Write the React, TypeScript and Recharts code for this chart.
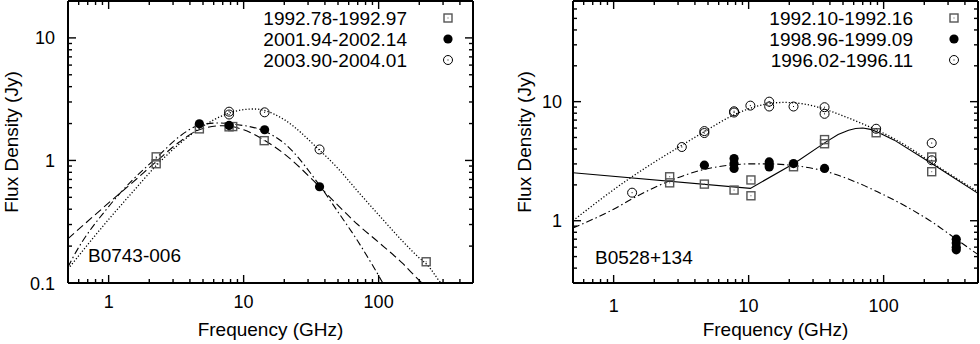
import { ComposedChart, Line, Scatter, XAxis, YAxis } from 'recharts'

const FONT = '"Liberation Sans", Arial, Helvetica, sans-serif'

type Pt = [number, number] // [frequency GHz, flux Jy]

// axis ticks
const freqTicks = [0.6, 0.7, 0.8, 0.9, 1, 2, 3, 4, 5, 6, 7, 8, 9, 10, 20, 30, 40, 50, 60, 70, 80, 90, 100, 200, 300, 400]
const b0743FluxTicks = [0.1, 0.2, 0.3, 0.4, 0.5, 0.6, 0.7, 0.8, 0.9, 1, 2, 3, 4, 5, 6, 7, 8, 9, 10]
const b0528FluxTicks = [0.4, 0.5, 0.6, 0.7, 0.8, 0.9, 1, 2, 3, 4, 5, 6, 7, 8, 9, 10, 20, 30, 40, 50, 60]
const labelled = [0.1, 1, 10, 100]

// B0743-006 measurements
const b0743Sq1992: Pt[] = [[2.25, 1.07], [2.25, 0.94], [4.7, 1.81], [7.8, 1.88], [8.3, 1.89], [14.2, 1.45], [225, 0.149]]
const b0743Fill2001: Pt[] = [[4.7, 1.99], [7.8, 1.93], [14.3, 1.78], [36.5, 0.61]]
const b0743Open2003: Pt[] = [[7.8, 2.5], [7.8, 2.37], [14.3, 2.47], [36.5, 1.23]]

// B0743-006 fitted spectra
const b0743Fit1992: Pt[] = [[0.5, 0.23], [1, 0.45], [1.5, 0.66], [2.3, 1.0], [3.3, 1.4], [4.8, 1.8], [7, 1.92], [10, 1.78], [14, 1.48], [20, 1.13], [36, 0.62], [50, 0.43], [70, 0.3], [100, 0.215], [150, 0.145], [200, 0.105], [220, 0.095]]
const b0743Fit2001: Pt[] = [[0.5, 0.135], [0.55, 0.165], [1, 0.42], [1.5, 0.69], [2.3, 1.07], [3.3, 1.55], [4.8, 1.95], [6.5, 2.02], [8.5, 1.97], [14, 1.75], [20, 1.38], [36, 0.64], [50, 0.38], [70, 0.22], [90, 0.14], [100, 0.115], [110, 0.095]]
const b0743Fit2003: Pt[] = [[0.5, 0.13], [1, 0.33], [1.5, 0.55], [2.3, 0.93], [3.3, 1.35], [4.8, 1.85], [7.7, 2.42], [10, 2.6], [12, 2.63], [14, 2.57], [20, 2.15], [36, 1.23], [50, 0.86], [70, 0.56], [100, 0.36], [150, 0.22], [200, 0.16], [230, 0.14], [290, 0.1], [310, 0.093]]

// B0528+134 measurements
const b0528Sq1992: Pt[] = [[2.6, 2.34], [2.6, 2.08], [4.7, 2.03], [7.8, 1.81], [10.4, 2.2], [10.4, 1.62], [21.5, 2.84], [36.5, 4.8], [36.5, 4.43], [88, 5.48], [227, 3.43], [227, 2.58]]
const b0528Fill1998: Pt[] = [[4.7, 2.93], [7.8, 3.33], [7.8, 3.02], [7.8, 2.75], [14.2, 3.12], [14.2, 2.95], [14.2, 2.83], [21.5, 3.02], [36.5, 2.75], [345, 0.7], [345, 0.65], [345, 0.6], [345, 0.57]]
const b0528Open1996: Pt[] = [[1.37, 1.72], [3.2, 4.16], [4.7, 5.66], [4.7, 5.45], [7.8, 8.3], [7.8, 8.1], [10.3, 9.26], [14.2, 10.0], [14.2, 9.1], [21.5, 9.1], [36.5, 8.98], [36.5, 7.9], [88, 5.92], [227, 4.49], [227, 3.22]]

// B0528+134 fitted spectra
const b0528Fit1992: Pt[] = [[0.5, 2.53], [10.3, 1.87], [22, 3.05], [37, 4.55], [46, 5.3], [55, 5.75], [62, 5.95], [70, 6.0], [80, 5.85], [90, 5.55], [120, 4.75], [230, 3.0], [500, 1.7]]
const b0528Fit1998: Pt[] = [[0.5, 0.87], [1, 1.25], [1.4, 1.55], [2.7, 2.2], [4.7, 2.7], [7.7, 2.95], [10, 3.0], [14, 3.0], [22, 2.9], [37, 2.6], [60, 2.15], [90, 1.75], [150, 1.3], [230, 0.97], [345, 0.7], [500, 0.52]]
const b0528Fit1996: Pt[] = [[0.5, 1.0], [1.3, 2.25], [2, 3.1], [3.2, 4.3], [4.7, 5.6], [7.7, 7.7], [10, 8.7], [14, 9.6], [18, 9.85], [25, 9.6], [37, 8.6], [50, 7.6], [70, 6.5], [90, 5.75], [150, 4.2], [230, 3.05], [500, 1.75]]

const DOTTED = '1.2 2'
const DASHED = '8 4'
const DASHDOT = '7 3 1.5 3'

const toRows = (pts: Pt[]) => pts.map(([x, y]) => ({ x, y }))

type Shape = 'square' | 'filled' | 'open'

function Marker({ kind, cx, cy }: { kind: Shape; cx: number; cy: number }) {
  if (kind === 'square')
    return (
      <g>
        <rect x={cx - 4} y={cy - 4} width={8} height={8} fill="none" stroke="#555" strokeWidth={1.4} />
        <rect x={cx - 0.5} y={cy - 0.5} width={1} height={1} fill="#555" />
      </g>
    )
  if (kind === 'filled') return <circle cx={cx} cy={cy} r={4.6} fill="#000" />
  return (
    <g>
      <circle cx={cx} cy={cy} r={4.5} fill="none" stroke="#000" strokeWidth={1} />
      <rect x={cx - 0.5} y={cy - 0.5} width={1} height={1} fill="#000" />
    </g>
  )
}

interface Series {
  name: string
  shape: Shape
  pts: Pt[]
  fit: Pt[]
  dash?: string
  curve: 'monotone' | 'linear'
}

interface PanelProps {
  left: number
  plotLeft: number
  yDomain: [number, number]
  yTicks: number[]
  series: Series[]
  source: string
  sourceX: number
  sourceY: number
  yLabelX: number
  xTickDy: number
  yTickGap: number
  legendTextX: number
  legendSymX: number
}

const W = 490
const H = 344
const PLOT_W = 405
const PLOT_TOP = 1
const PLOT_BOTTOM = 283

function Panel(p: PanelProps) {
  const rightW = W - p.plotLeft - PLOT_W
  const major = (v: number) => labelled.includes(v)

  const bottomTick = (t: any) => {
    const v = t.payload.value
    return (
      <g>
        <line x1={t.x} x2={t.x} y1={t.y} y2={t.y - (major(v) ? 8 : 4)} stroke="#000" strokeWidth={1.4} />
        {major(v) && (
          <text x={t.x} y={t.y + p.xTickDy} textAnchor="middle" fontSize={18} fontFamily={FONT} fill="#000">
            {v}
          </text>
        )}
      </g>
    )
  }
  const topTick = (t: any) => (
    <line x1={t.x} x2={t.x} y1={t.y} y2={t.y + (major(t.payload.value) ? 8 : 4)} stroke="#000" strokeWidth={1.4} />
  )
  const leftTick = (t: any) => {
    const v = t.payload.value
    return (
      <g>
        <line x1={t.x} x2={t.x + (major(v) ? 8 : 4)} y1={t.y} y2={t.y} stroke="#000" strokeWidth={1.4} />
        {major(v) && (
          <text x={t.x - p.yTickGap} y={t.y + 6.5} textAnchor="end" fontSize={18} fontFamily={FONT} fill="#000">
            {v}
          </text>
        )}
      </g>
    )
  }
  const rightTick = (t: any) => (
    <line x1={t.x} x2={t.x - (major(t.payload.value) ? 8 : 4)} y1={t.y} y2={t.y} stroke="#000" strokeWidth={1.4} />
  )

  const axisLine = { stroke: '#000', strokeWidth: 2 }
  const legendRows = [18, 39, 60]

  return (
    <div style={{ position: 'absolute', left: p.left, top: 0, width: W, height: H }}>
      <ComposedChart width={W} height={H} margin={{ top: 0, right: 0, bottom: H - PLOT_BOTTOM - 40, left: 0 }}>
        <XAxis
          xAxisId="b"
          dataKey="x"
          type="number"
          scale="log"
          domain={[0.5, 500]}
          allowDataOverflow
          ticks={freqTicks}
          interval={0}
          height={40}
          tickSize={0}
          tickMargin={0}
          tickLine={false}
          axisLine={axisLine}
          tick={bottomTick}
        />
        <XAxis
          xAxisId="t"
          orientation="top"
          dataKey="x"
          type="number"
          scale="log"
          domain={[0.5, 500]}
          allowDataOverflow
          ticks={freqTicks}
          interval={0}
          height={PLOT_TOP}
          tickSize={0}
          tickMargin={0}
          tickLine={false}
          axisLine={axisLine}
          tick={topTick}
        />
        <YAxis
          yAxisId="l"
          dataKey="y"
          type="number"
          scale="log"
          domain={p.yDomain}
          allowDataOverflow
          ticks={p.yTicks}
          interval={0}
          width={p.plotLeft}
          tickSize={0}
          tickMargin={0}
          tickLine={false}
          axisLine={axisLine}
          tick={leftTick}
        />
        <YAxis
          yAxisId="r"
          orientation="right"
          dataKey="y"
          type="number"
          scale="log"
          domain={p.yDomain}
          allowDataOverflow
          ticks={p.yTicks}
          interval={0}
          width={rightW}
          tickSize={0}
          tickMargin={0}
          tickLine={false}
          axisLine={axisLine}
          tick={rightTick}
        />
        {p.series.map((s) => (
          <Line
            key={'fit-' + s.name}
            xAxisId="b"
            yAxisId="l"
            data={toRows(s.fit)}
            dataKey="y"
            type={s.curve}
            stroke="#000"
            strokeWidth={s.dash === DOTTED ? 1.3 : 1.1}
            strokeDasharray={s.dash}
            dot={false}
            activeDot={false}
            isAnimationActive={false}
          />
        ))}
        {p.series.map((s) => (
          <Scatter
            key={'pts-' + s.name}
            xAxisId="b"
            yAxisId="l"
            data={toRows(s.pts)}
            dataKey="y"
            shape={(d: any) => <Marker kind={s.shape} cx={d.cx} cy={d.cy} />}
            isAnimationActive={false}
          />
        ))}
      </ComposedChart>
      <svg
        width={W}
        height={H}
        style={{ position: 'absolute', left: 0, top: 0, pointerEvents: 'none' }}
        fontFamily={FONT}
        fontSize={19}
      >
        <text x={p.plotLeft + PLOT_W / 2} y={336} textAnchor="middle">
          Frequency (GHz)
        </text>
        <text
          x={p.yLabelX}
          y={(PLOT_TOP + PLOT_BOTTOM) / 2}
          textAnchor="middle"
          transform={`rotate(-90 ${p.yLabelX} ${(PLOT_TOP + PLOT_BOTTOM) / 2})`}
        >
          Flux Density (Jy)
        </text>
        <text x={p.sourceX} y={p.sourceY}>
          {p.source}
        </text>
        {p.series.map((s, i) => (
          <g key={'leg-' + s.name}>
            <text x={p.legendTextX} y={legendRows[i] + 7} textAnchor="end">
              {s.name}
            </text>
            <Marker kind={s.shape} cx={p.legendSymX} cy={legendRows[i]} />
          </g>
        ))}
      </svg>
    </div>
  )
}

const b0743Series: Series[] = [
  { name: '1992.78-1992.97', shape: 'square', pts: b0743Sq1992, fit: b0743Fit1992, dash: DASHED, curve: 'monotone' },
  { name: '2001.94-2002.14', shape: 'filled', pts: b0743Fill2001, fit: b0743Fit2001, dash: DASHDOT, curve: 'monotone' },
  { name: '2003.90-2004.01', shape: 'open', pts: b0743Open2003, fit: b0743Fit2003, dash: DOTTED, curve: 'monotone' },
]

const b0528Series: Series[] = [
  { name: '1992.10-1992.16', shape: 'square', pts: b0528Sq1992, fit: b0528Fit1992, curve: 'linear' },
  { name: '1998.96-1999.09', shape: 'filled', pts: b0528Fill1998, fit: b0528Fit1998, dash: DASHDOT, curve: 'monotone' },
  { name: '1996.02-1996.11', shape: 'open', pts: b0528Open1996, fit: b0528Fit1996, dash: DOTTED, curve: 'monotone' },
]

export default function App() {
  return (
    <div style={{ position: 'absolute', left: 0, top: 0, width: 980, height: 344, background: '#fff', overflow: 'hidden' }}>
      <Panel
        left={0}
        plotLeft={68}
        yDomain={[0.1, 20]}
        yTicks={b0743FluxTicks}
        series={b0743Series}
        source="B0743-006"
        sourceX={88}
        sourceY={262}
        yLabelX={18}
        xTickDy={25}
        yTickGap={13}
        legendTextX={407}
        legendSymX={448}
      />
      <Panel
        left={490}
        plotLeft={83}
        yDomain={[0.3, 70]}
        yTicks={b0528FluxTicks}
        series={b0528Series}
        source="B0528+134"
        sourceX={105}
        sourceY={264}
        yLabelX={41}
        xTickDy={29}
        yTickGap={11}
        legendTextX={423}
        legendSymX={464}
      />
    </div>
  )
}
